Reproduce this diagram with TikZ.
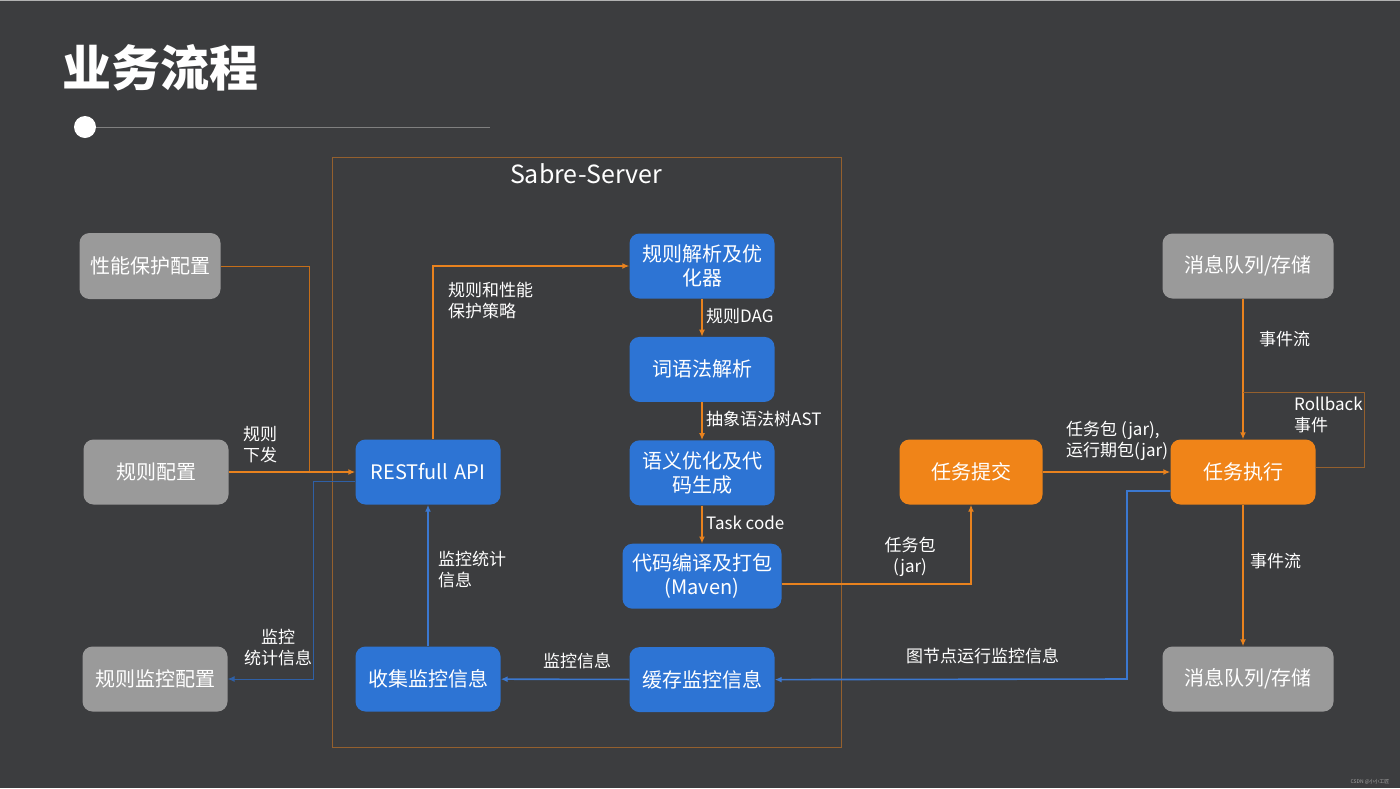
\documentclass[tikz,border=0pt]{standalone}
\usepackage{fontspec}
\setmainfont{Noto Sans CJK SC}
\usetikzlibrary{positioning,calc,arrows.meta}
\definecolor{SlideBg}{HTML}{3C3D3F}
\definecolor{BoxGray}{HTML}{9A9A9A}
\definecolor{BoxBlue}{HTML}{2D74D4}
\definecolor{BoxOrange}{HTML}{F08418}
\definecolor{LineOrange}{HTML}{E8821E}
\definecolor{LineBlue}{HTML}{3B78D0}
\definecolor{FrameBrown}{HTML}{94602E}

\begin{document}
\begin{tikzpicture}[
  x=1pt, y=-1pt,
  node distance=38pt,
  box/.style={rounded corners=10pt, text width=136pt, align=center, text=white, font=\fontsize{20}{24}\selectfont, minimum width=145pt, minimum height=65pt, inner sep=0pt},
  graybox/.style={box, fill=BoxGray},
  bluebox/.style={box, fill=BoxBlue},
  orangebox/.style={box, fill=BoxOrange},
  lbl/.style={text=white, align=left, font=\fontsize{17}{21}\selectfont, inner sep=0pt},
  arr/.style={-{Latex[length=7pt,width=6pt]}, line width=1.6pt, draw=LineOrange},
  barr/.style={-{Latex[length=7pt,width=6pt]}, line width=1.6pt, draw=LineBlue},
  thin line/.style={line width=0.9pt}
]
\useasboundingbox[fill=SlideBg] (0,0) rectangle (1400,788);
\draw[line width=2pt, gray!60] (0,0) -- (1400,0);

% title
\node[anchor=west, text=white, font=\bfseries\fontsize{49}{50}\selectfont, inner sep=0pt] (title) at (62,68) {业务流程};
\fill[white] (85,127) circle (11pt);
\draw[line width=0.8pt, gray] (96,127) -- (490,127);

% server frame
\draw[thin line, FrameBrown] (332,157) rectangle (841,747);
\node[text=white, font=\fontsize{25}{28}\selectfont] (server) at (586,174) {Sabre-Server};

% left column
\node[graybox, minimum width=141pt, minimum height=66pt] (perf) at (150,266) {性能保护配置};
\node[graybox] (rulecfg) at (156,472) {规则配置};
\node[graybox] (rulemon) at (155,679) {规则监控配置};

% server
\node[bluebox] (rest) at (428,472) {RESTfull API};
\node[bluebox] (collect) at (428,679) {收集监控信息};
\node[bluebox] (parse) at (702,266) {规则解析及优\\化器};
\node[bluebox, below=of parse] (lex) {词语法解析};
\node[bluebox, below=of lex] (sem) {语义优化及代\\码生成};
\node[bluebox, below=of sem, minimum width=159pt, text width=156pt] (build) {代码编译及打包\\(Maven)};
\node[bluebox, below=of build] (cache) {缓存监控信息};

% right side
\node[orangebox, minimum width=143pt] (submit) at (971,472) {任务提交};
\node[orangebox] (exec) at (1243,472) {任务执行};
\node[graybox, minimum width=171pt] (mqin) at (1248,266) {消息队列/存储};
\node[graybox, minimum width=171pt] (mqout) at (1248,679) {消息队列/存储};

% corner points
\coordinate (join) at (309,472);
\coordinate (back) at (313,679);
\coordinate (rb) at (1364,392);
\coordinate (mon) at (1127,679);

% rule flow
\draw[thin line, LineOrange!85!black] (perf.east) -| (join);
\draw[arr] (rulecfg) -- (rest);
\draw[arr] ([xshift=5pt]rest.north) |- (parse.west);
\draw[arr] (parse) -- (lex);
\draw[arr] (lex) -- (sem);
\draw[arr] (sem) -- (build);
\draw[arr] ([yshift=-8pt]build.east) -| (submit.south);
\draw[arr] (submit) -- (exec);
\draw[arr] (exec.north |- mqin.south) -- (exec.north);
\draw[arr] (exec.south) -- (exec.south |- mqout.north);
\draw[thin line, FrameBrown] ([yshift=5pt]exec.east) -| (rb) -- (rb -| exec.north);

% monitoring flow
\draw[barr] ([yshift=-19pt]exec.west) -| (mon) -- (cache.east);
\draw[barr] (cache) -- (collect);
\draw[barr] (collect) -- (rest);
\draw[barr, line width=1pt, draw=LineBlue!80!black] ([yshift=-9pt]rest.west) -| (back) -- (rulemon.east);

% labels
\node[lbl, anchor=west] (l1) at (243,445) {规则\\下发};
\node[lbl, align=center] (l2) at (278,648) {监控\\统计信息};
\node[lbl, anchor=west] (l3) at (448,301) {规则和性能\\保护策略};
\node[lbl, anchor=west] (l4) at (706,316) {规则DAG};
\node[lbl, anchor=west] (l5) at (706,419) {抽象语法树AST};
\node[lbl, anchor=west] (l6) at (706,523) {Task code};
\node[lbl, anchor=west] (l7) at (438,570) {监控统计\\信息};
\node[lbl] (l8) at (577,661) {监控信息};
\node[lbl, align=center] (l9) at (910,557) {任务包\\(jar)};
\node[lbl, anchor=west] (l10) at (1066,441) {任务包 (jar),\\运行期包(jar)};
\node[lbl, anchor=west] (l11) at (1259,339) {事件流};
\node[lbl, anchor=west] (l12) at (1294,415) {Rollback\\事件};
\node[lbl, anchor=west] (l13) at (1250,561) {事件流};
\node[lbl, anchor=west] (l14) at (906,656) {图节点运行监控信息};
\node[text=gray!70, font=\fontsize{5}{6}\selectfont, anchor=east] (mark) at (1393,782) {CSDN @小小工匠};
\end{tikzpicture}
\end{document}
